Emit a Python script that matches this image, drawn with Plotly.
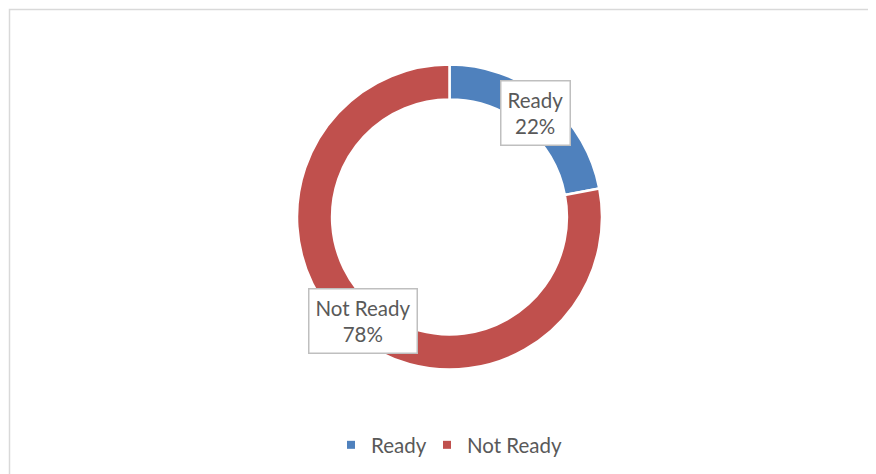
import math
import plotly.graph_objects as go

labels = ["Ready", "Not Ready"]
values = [22, 78]
colors = ["#4F81BD", "#C0504D"]

OFF = 8  # page body margin
W, H = 876 - OFF, 474 - OFF
cx, cy, R = 449.5 - OFF, 217.0 - OFF, 152.5
hole = 0.77
FONT = "Lato"
TXT = "#595959"
FS = 20.5

fig = go.Figure()
fig.add_trace(go.Pie(
    labels=labels, values=values, hole=hole, sort=False, direction="clockwise",
    rotation=0, textinfo="none", hoverinfo="label+percent", showlegend=False,
    marker=dict(colors=colors, line=dict(color="white", width=2.5)),
    domain=dict(x=[(cx - R) / W, (cx + R) / W], y=[(H - cy - R) / H, (H - cy + R) / H]),
))

# legend entries with small square swatches, one legend box per entry
legend_names = ["legend", "legend2"]
legend_x = [331 - OFF, 427 - OFF]
for lab, col, lg in zip(labels, colors, legend_names):
    fig.add_trace(go.Scatter(x=[None], y=[None], mode="markers", name=lab, legend=lg,
                             marker=dict(symbol="square", size=8, color=col)))

# data labels at the ring middle, at the mid angle of each slice
total = sum(values)
start = 0.0
rmid = R * (1 + hole) / 2
for lab, v in zip(labels, values):
    frac = v / total
    mid = (start + frac / 2) * 2 * math.pi
    start += frac
    px = cx + rmid * math.sin(mid)
    py = cy - rmid * math.cos(mid)
    fig.add_annotation(x=px / W, y=1 - py / H, xref="paper", yref="paper",
                       text=f"{lab}<br>{round(frac * 100)}%", showarrow=False,
                       font=dict(family=FONT, size=FS, color=TXT),
                       bgcolor="white", bordercolor="#BFBFBF", borderwidth=1.5,
                       borderpad=6, xanchor="center", yanchor="middle")

fig.add_shape(type="rect", xref="paper", yref="paper",
              x0=(9.5 - OFF) / W, y0=-0.05, x1=1.05, y1=1 - (9.5 - OFF) / H,
              line=dict(color="#D9D9D9", width=1.5), fillcolor="rgba(0,0,0,0)")

legend_style = dict(orientation="h", xanchor="left", y=1 - (445 - OFF) / H, yanchor="middle",
                    font=dict(family=FONT, size=FS, color=TXT), itemwidth=30,
                    bgcolor="rgba(0,0,0,0)")

fig.update_layout(
    width=W, height=H, margin=dict(l=0, r=0, t=0, b=0),
    paper_bgcolor="white", plot_bgcolor="white",
    xaxis=dict(visible=False), yaxis=dict(visible=False),
    legend=dict(x=legend_x[0] / W, **legend_style),
    legend2=dict(x=legend_x[1] / W, **legend_style),
    font=dict(family=FONT),
)

fig.write_html("out.html", post_script="document.body.style.overflow='hidden';")
